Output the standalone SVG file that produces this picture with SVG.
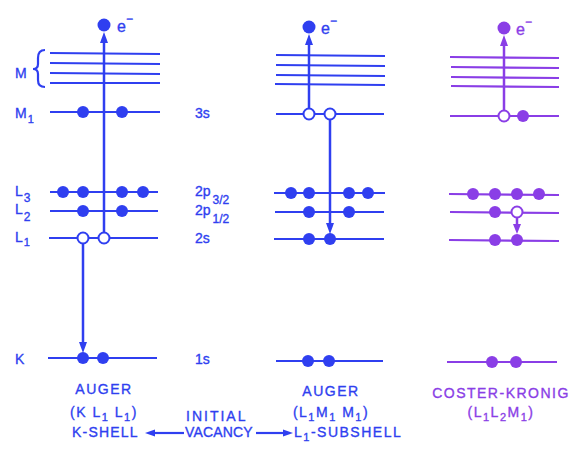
<svg xmlns="http://www.w3.org/2000/svg" width="577" height="450" viewBox="0 0 577 450">
<defs>
<style>
.b{stroke:#2f3ff0;fill:none;stroke-width:2.2}
.p{stroke:#8a3ee6;fill:none;stroke-width:2.2}
.bv{stroke:#2f3ff0;fill:none;stroke-width:2.5}
.pv{stroke:#8a3ee6;fill:none;stroke-width:2.5}
.bd{fill:#2f3ff0}
.pd{fill:#8a3ee6}
.bo{fill:#fff;stroke:#2f3ff0;stroke-width:2}
.po{fill:#fff;stroke:#8a3ee6;stroke-width:2}
text{font-family:"Liberation Sans","DejaVu Sans",sans-serif;font-size:14px;stroke-width:0.35px}
.bt{fill:#2f3ff0;stroke:#2f3ff0}
.pt{fill:#8a3ee6;stroke:#8a3ee6}
.cap{letter-spacing:1.5px}
.e{font-size:16px}
</style>
</defs>
<rect width="577" height="450" fill="#fff"/>

<g id="shell-labels" class="bt">
<text x="15" y="78">M</text>
<path class="b" stroke-width="1.5" d="M45,50 Q38,50 38,58 L38,64 Q38,69 33,69 Q38,69 38,74 L38,80 Q38,87 45,87"/>
<text x="15" y="118">M<tspan font-size="11" dx="1" dy="5">1</tspan></text>
<text x="15" y="196">L<tspan font-size="12" dx="1" dy="6">3</tspan></text>
<text x="15" y="214">L<tspan font-size="12" dx="1" dy="7">2</tspan></text>
<text x="15" y="242">L<tspan font-size="11" dx="1" dy="4">1</tspan></text>
<text x="15" y="364">K</text>
</g>

<g id="orbital-labels" class="bt">
<text x="195" y="118">3s</text>
<text x="195" y="196">2p<tspan font-size="12" dx="2" dy="8">3/2</tspan></text>
<text x="195" y="215">2p<tspan font-size="12" dx="2" dy="8">1/2</tspan></text>
<text x="195" y="243">2s</text>
<text x="195" y="364">1s</text>
</g>

<g id="k-shell-auger">
<line class="b" x1="50" y1="53" x2="160" y2="54"/>
<line class="b" x1="50" y1="63" x2="160" y2="64"/>
<line class="b" x1="50" y1="73" x2="160" y2="74"/>
<line class="b" x1="50" y1="83" x2="160" y2="83"/>
<line class="b" x1="50" y1="112" x2="160" y2="112"/>
<line class="b" x1="50" y1="192" x2="158" y2="192"/>
<line class="b" x1="50" y1="211" x2="158" y2="211"/>
<line class="b" x1="49" y1="238" x2="158" y2="238"/>
<line class="b" x1="48" y1="358" x2="157" y2="358"/>
<circle class="bd" cx="83" cy="112" r="6"/>
<circle class="bd" cx="122" cy="112" r="6"/>
<circle class="bd" cx="63" cy="192" r="6"/>
<circle class="bd" cx="83" cy="192" r="6"/>
<circle class="bd" cx="122" cy="192" r="6"/>
<circle class="bd" cx="143" cy="192" r="6"/>
<circle class="bd" cx="83" cy="211" r="6"/>
<circle class="bd" cx="122" cy="211" r="6"/>
<circle class="bd" cx="83" cy="358" r="6"/>
<circle class="bd" cx="103" cy="358" r="6"/>
<circle class="bd" cx="104" cy="25" r="6.5"/>
<text class="bt e" x="117" y="32">e<tspan font-size="12" dy="-9">−</tspan></text>
</g>

<g id="l1-subshell-auger">
<line class="b" x1="276" y1="55" x2="385" y2="56"/>
<line class="b" x1="276" y1="65" x2="385" y2="66"/>
<line class="b" x1="276" y1="75" x2="385" y2="76"/>
<line class="b" x1="275" y1="84" x2="385" y2="85"/>
<line class="b" x1="276" y1="114" x2="384" y2="114"/>
<line class="b" x1="274" y1="193" x2="385" y2="193"/>
<line class="b" x1="275" y1="212" x2="384" y2="212"/>
<line class="b" x1="274" y1="239" x2="384" y2="239"/>
<line class="b" x1="276" y1="361" x2="383" y2="361"/>
<circle class="bd" cx="291" cy="193" r="6"/>
<circle class="bd" cx="309" cy="193" r="6"/>
<circle class="bd" cx="349" cy="193" r="6"/>
<circle class="bd" cx="368" cy="193" r="6"/>
<circle class="bd" cx="309" cy="212" r="6"/>
<circle class="bd" cx="349" cy="212" r="6"/>
<circle class="bd" cx="309" cy="239" r="6"/>
<circle class="bd" cx="330" cy="239" r="6"/>
<circle class="bd" cx="308" cy="361" r="6"/>
<circle class="bd" cx="329" cy="361" r="6"/>
<circle class="bd" cx="309" cy="27" r="6.5"/>
<text class="bt e" x="321" y="34">e<tspan font-size="12" dy="-9">−</tspan></text>
</g>

<g id="coster-kronig">
<line class="p" x1="450" y1="57" x2="559" y2="58"/>
<line class="p" x1="451" y1="67" x2="559" y2="68"/>
<line class="p" x1="451" y1="77" x2="559" y2="78"/>
<line class="p" x1="451" y1="86" x2="559" y2="87"/>
<line class="p" x1="450" y1="116" x2="559" y2="116"/>
<line class="p" x1="449" y1="194" x2="559" y2="195"/>
<line class="p" x1="450" y1="212" x2="559" y2="213"/>
<line class="p" x1="449" y1="240" x2="559" y2="241"/>
<line class="p" x1="447" y1="362" x2="557" y2="362"/>
<circle class="pd" cx="523" cy="116" r="6"/>
<circle class="pd" cx="473" cy="194" r="6"/>
<circle class="pd" cx="495" cy="194" r="6"/>
<circle class="pd" cx="517" cy="194" r="6"/>
<circle class="pd" cx="539" cy="194" r="6"/>
<circle class="pd" cx="495" cy="212" r="6"/>
<circle class="pd" cx="495" cy="240" r="6"/>
<circle class="pd" cx="517" cy="240" r="6"/>
<circle class="pd" cx="492" cy="362" r="6"/>
<circle class="pd" cx="516" cy="362" r="6"/>
<circle class="pd" cx="504" cy="28" r="6.5"/>
<text class="pt e" x="516" y="35">e<tspan font-size="12" dy="-9">−</tspan></text>
</g>

<g id="connectors">
<line class="bv" x1="104" y1="238" x2="104" y2="42"/>
<polygon class="bd" points="104,32 100,43 108,43"/>
<line class="bv" x1="83" y1="238" x2="83" y2="344"/>
<polygon class="bd" points="83,353 79,342 87,342"/>
<circle class="bo" cx="83" cy="238" r="5.5"/>
<circle class="bo" cx="104" cy="238" r="5.5"/>

<line class="bv" x1="309" y1="114" x2="309" y2="44"/>
<polygon class="bd" points="309,34 305,45 313,45"/>
<line class="bv" x1="330" y1="114" x2="330" y2="225"/>
<polygon class="bd" points="330,234 326,223 334,223"/>
<circle class="bo" cx="309" cy="114" r="5.5"/>
<circle class="bo" cx="330" cy="114" r="5.5"/>

<line class="pv" x1="504" y1="116" x2="504" y2="45"/>
<polygon class="pd" points="504,35 500,46 508,46"/>
<line class="pv" x1="517" y1="212" x2="517" y2="226"/>
<polygon class="pd" points="517,234 513,224 521,224"/>
<circle class="po" cx="504" cy="116" r="5.5"/>
<circle class="po" cx="517" cy="212" r="5.5"/>

<line class="b" x1="184" y1="433" x2="152" y2="433"/>
<polygon class="bd" points="145,433 155,429.5 155,436.5"/>
<line class="b" x1="256" y1="433" x2="286" y2="433"/>
<polygon class="bd" points="293,433 283,429.5 283,436.5"/>
</g>

<g id="captions" class="bt">
<text class="cap" x="104" y="394" text-anchor="middle">AUGER</text>
<text class="cap" x="104" y="417" text-anchor="middle">(K L<tspan font-size="11" dy="4">1</tspan><tspan dy="-4"> L</tspan><tspan font-size="11" dy="4">1</tspan><tspan dy="-4">)</tspan></text>
<text class="cap" x="72" y="437" textLength="67">K-SHELL</text>
<text class="cap" x="186" y="421" textLength="61">INITIAL</text>
<text class="cap" x="185" y="437" textLength="69">VACANCY</text>
<text class="cap" x="331" y="396" text-anchor="middle">AUGER</text>
<text class="cap" x="331" y="417" text-anchor="middle">(L<tspan font-size="11" dy="4">1</tspan><tspan dy="-4">M</tspan><tspan font-size="11" dy="4">1</tspan><tspan dy="-4"> M</tspan><tspan font-size="11" dy="4">1</tspan><tspan dy="-4">)</tspan></text>
<text class="cap" x="294" y="437">L<tspan font-size="11" dy="4">1</tspan><tspan dy="-4">-SUBSHELL</tspan></text>
</g>
<g id="ck-captions" class="pt">
<text class="cap" x="501" y="398" text-anchor="middle">COSTER-KRONIG</text>
<text class="cap" x="501" y="417" text-anchor="middle">(L<tspan font-size="11" dy="4">1</tspan><tspan dy="-4">L</tspan><tspan font-size="11" dy="4">2</tspan><tspan dy="-4">M</tspan><tspan font-size="11" dy="4">1</tspan><tspan dy="-4">)</tspan></text>
</g>
</svg>
